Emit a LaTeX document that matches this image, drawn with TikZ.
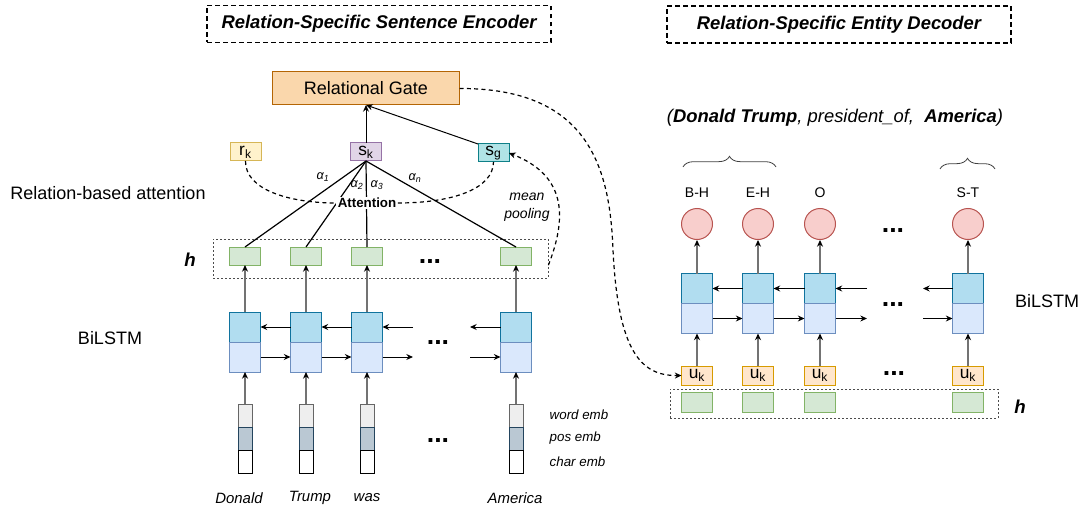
\documentclass[tikz,border=0pt]{standalone}
\usepackage{fontspec}
\setmainfont{Liberation Sans}
\usetikzlibrary{arrows.meta,decorations.pathreplacing,calc}
\definecolor{gatefill}{HTML}{FAD7AC}\definecolor{gatedraw}{HTML}{B46504}
\definecolor{rkfill}{HTML}{FFF2CC}\definecolor{rkdraw}{HTML}{D6B656}
\definecolor{skfill}{HTML}{E1D5E7}\definecolor{skdraw}{HTML}{9673A6}
\definecolor{sgfill}{HTML}{B0E3E6}\definecolor{sgdraw}{HTML}{0E8088}
\definecolor{hfill}{HTML}{D5E8D4}\definecolor{hdraw}{HTML}{82B366}
\definecolor{ctfill}{HTML}{B1DDF0}\definecolor{ctdraw}{HTML}{10739E}
\definecolor{cbfill}{HTML}{DAE8FC}\definecolor{cbdraw}{HTML}{6C8EBF}
\definecolor{cifill}{HTML}{F8CECC}\definecolor{cidraw}{HTML}{B85450}
\definecolor{ukfill}{HTML}{FFE6CC}\definecolor{ukdraw}{HTML}{D79B00}
\definecolor{ewfill}{HTML}{EEEEEE}\definecolor{ewdraw}{HTML}{666666}
\definecolor{epfill}{HTML}{BAC8D3}\definecolor{epdraw}{HTML}{23445D}
\begin{document}
\begin{tikzpicture}[x=0.75pt,y=-0.75pt,
  font=\fontsize{13.5}{16}\selectfont,
  box/.style={draw, line width=0.75pt, inner sep=0pt, outer sep=0pt},
  titlebox/.style={draw, dash pattern=on 3.5pt off 2.5pt, line width=0.9pt, minimum width=258pt, minimum height=27.75pt, inner sep=0pt, font=\fontsize{13.8}{15}\selectfont\bfseries\itshape},
  gatebox/.style={box, fill=gatefill, draw=gatedraw, minimum width=140.25pt, minimum height=24.75pt},
  sbox/.style={box, minimum width=23.25pt, minimum height=13.5pt, font=\fontsize{13}{13}\selectfont},
  hbox/.style={box, fill=hfill, draw=hdraw, minimum width=23.25pt, minimum height=13.5pt},
  cellT/.style={box, fill=ctfill, draw=ctdraw, minimum width=23.25pt, minimum height=22.5pt},
  cellB/.style={box, fill=cbfill, draw=cbdraw, minimum width=23.25pt, minimum height=22.5pt},
  embw/.style={box, fill=ewfill, draw=ewdraw, minimum width=10.5pt, minimum height=17.25pt},
  embp/.style={box, fill=epfill, draw=epdraw, minimum width=10.5pt, minimum height=17.25pt},
  embc/.style={box, fill=white, draw=black, minimum width=10.5pt, minimum height=17.25pt},
  circ/.style={circle, draw=cidraw, fill=cifill, line width=0.75pt, minimum size=23.25pt, inner sep=0pt},
  ukbox/.style={box, fill=ukfill, draw=ukdraw, minimum width=23.25pt, minimum height=14.25pt, font=\fontsize{13}{13}\selectfont},
  arr/.style={-{Stealth[length=5pt,width=4.5pt]}, line width=0.75pt},
  varr/.style={-{Stealth[length=5pt,width=4.5pt,color=black]}, line width=0.9pt, draw=black!55},
  attline/.style={line width=0.9pt},
  dsh/.style={dash pattern=on 3pt off 2.5pt, line width=0.9pt},
  dotbox/.style={draw=black!70, dash pattern=on 1.5pt off 1.5pt, line width=0.6pt, inner sep=0pt},
  dots/.style={font=\fontsize{20}{20}\selectfont\bfseries, inner sep=0pt},
  it/.style={font=\fontsize{10.5}{13.5}\selectfont\itshape},
  emblab/.style={font=\fontsize{10}{12}\selectfont\itshape, anchor=west},
  word/.style={font=\fontsize{11.2}{13}\selectfont\itshape},
  tag/.style={font=\fontsize{10.5}{12}\selectfont},
  alab/.style={font=\fontsize{9.5}{10}\selectfont\itshape, inner sep=0pt},
  big/.style={font=\fontsize{13.5}{16}\selectfont},
  hlab/.style={font=\fontsize{14}{16}\selectfont\bfseries\itshape}
]
\useasboundingbox (0,0) rectangle (1083,510);

% titles
\node[titlebox] (t1) at (379,24) {Relation-Specific Sentence Encoder};
\node[titlebox] (t2) at (839,24.5) {Relation-Specific Entity Decoder};

% gate and relation nodes
\node[gatebox] (gate) at (366,88.5) {Relational Gate};
\node[sbox, fill=rkfill, draw=rkdraw] (rk) at (245.5,152) {r\textsubscript{k}};
\node[sbox, fill=skfill, draw=skdraw] (sk) at (366,152) {s\textsubscript{k}};
\node[sbox, fill=sgfill, draw=sgdraw] (sg) at (493.5,153) {s\textsubscript{g}};
\draw[arr] (sk.north) -- (gate.south);
\draw[arr] (sg.north west) -- (gate.south);

% left labels
\node[big] (rba) at (108,193) {Relation-based attention};
\node[hlab] (hL) at (190,260) {h};
\node[big] (bil) at (110,338) {BiLSTM};

% h dashed box left
\node[dotbox, minimum width=251.25pt, minimum height=29.25pt] (hboxL) at (380.5,258.5) {};

% left columns
\foreach \i/\x in {1/245,2/306,3/367,4/516}{
  \node[embw] (ew\i) at (\x,415.5) {};
  \node[embp] (ep\i) at (\x,438.5) {};
  \node[embc] (ec\i) at (\x,461.5) {};
  \node[cellT] (lt\i) at (\x,327) {};
  \node[cellB] (lb\i) at (\x,357) {};
  \node[hbox] (lh\i) at (\x,256) {};
  \draw[varr] (ew\i.north) -- (lb\i.south);
  \draw[varr] (lt\i.north) -- (lh\i.south);
  \draw[attline] (sk.south) -- (lh\i.north);
}

% attention
\node[font=\fontsize{10}{12}\selectfont\bfseries, fill=white, inner sep=1pt] (att) at (367,203) {Attention};
\draw[dsh] (rk.south) .. controls (245,190) and (290,203) .. (att.west);
\draw[dsh] (att.east) .. controls (450,203) and (493,190) .. (sg.south);
\node[alab] (a1) at (323,177) {α\textsubscript{1}};
\node[alab] (a2) at (357,185) {α\textsubscript{2}};
\node[alab] (a3) at (377,185) {α\textsubscript{3}};
\node[alab] (an) at (415,178) {α\textsubscript{n}};

% mean pooling
\draw[dsh, -{Stealth[length=5pt,width=4.5pt]}] ([yshift=-5pt]hboxL.east) .. controls (568,215) and (565,175) .. (sg.east);
\node[it, align=center] (mp) at (527,207) {mean\\pooling};

% left LSTM arrows
\coordinate (lbkS) at (413,327);
\coordinate (lbkE) at (470,327);
\coordinate (lfwE) at (413,357);
\coordinate (lfwS) at (470,357);
\draw[arr] (lt2.west) -- (lt1.east);
\draw[arr] (lt3.west) -- (lt2.east);
\draw[arr] (lbkS) -- (lt3.east);
\draw[arr] (lt4.west) -- (lbkE);
\draw[arr] (lb1.east) -- (lb2.west);
\draw[arr] (lb2.east) -- (lb3.west);
\draw[arr] (lb3.east) -- (lfwE);
\draw[arr] (lfwS) -- (lb4.west);

% left dots
\node[dots] (dl1) at (430,262) {...};
\node[dots] (dl2) at (438,343) {...};
\node[dots] (dl3) at (438,441) {...};

% emb labels
\node[emblab] (lw) at (545,415) {word emb};
\node[emblab] (lp) at (545,438) {pos emb};
\node[emblab] (lc) at (545,462) {char emb};

% words
\node[word] (w1) at (239,498) {Donald};
\node[word] (w2) at (310,498) {Trump};
\node[word] (w3) at (367,498) {was};
\node[word] (w4) at (515,498) {America};

% right side
\node[font=\fontsize{13.8}{16}\selectfont\itshape] (tuple) at (835,118) {(\textbf{Donald Trump}, president\_of,~ \textbf{America})};
\draw[decorate, decoration={brace, amplitude=8pt}, line width=0.6pt, draw=black!75] (683,167) -- (776,167);
\draw[decorate, decoration={brace, amplitude=8pt}, line width=0.6pt, draw=black!75] (940,169) -- (995,169);

\node[tag] (bh) at (697,193) {B-H};
\node[tag] (eh) at (758,193) {E-H};
\node[tag] (oo) at (820,193) {O};
\node[tag] (st) at (968,193) {S-T};

\node[dotbox, minimum width=246pt, minimum height=21.75pt] (hboxR) at (834,403.5) {};
\foreach \i/\x in {1/697,2/758,3/820,4/968}{
  \node[ukbox] (uk\i) at (\x,375.5) {u\textsubscript{k}};
  \node[hbox, minimum height=15pt] (rh\i) at (\x,402) {};
  \node[cellT] (rt\i) at (\x,288.5) {};
  \node[cellB] (rb\i) at (\x,318.5) {};
  \node[circ] (c\i) at (\x,224) {};
  \draw[varr] (uk\i.north) -- (rb\i.south);
  \draw[varr] (rt\i.north) -- (c\i.south);
}
\coordinate (rbkS) at (867,288.5);
\coordinate (rbkE) at (923,288.5);
\coordinate (rfwE) at (867,318.5);
\coordinate (rfwS) at (923,318.5);
\draw[arr] (rt2.west) -- (rt1.east);
\draw[arr] (rt3.west) -- (rt2.east);
\draw[arr] (rbkS) -- (rt3.east);
\draw[arr] (rt4.west) -- (rbkE);
\draw[arr] (rb1.east) -- (rb2.west);
\draw[arr] (rb2.east) -- (rb3.west);
\draw[arr] (rb3.east) -- (rfwE);
\draw[arr] (rfwS) -- (rb4.west);

\node[dots] (dr1) at (893,231) {...};
\node[dots] (dr2) at (893,305) {...};
\node[dots] (dr3) at (894,374) {...};

\node[big] (bilR) at (1047,301) {BiLSTM};
\node[hlab] (hR) at (1020,407) {h};

% gate to decoder
\draw[dsh, -{Stealth[length=5pt,width=4.5pt]}] (gate.east) .. controls (590,88) and (610,170) .. (613,250) .. controls (618,350) and (640,376) .. (uk1.west);
\end{tikzpicture}
\end{document}
